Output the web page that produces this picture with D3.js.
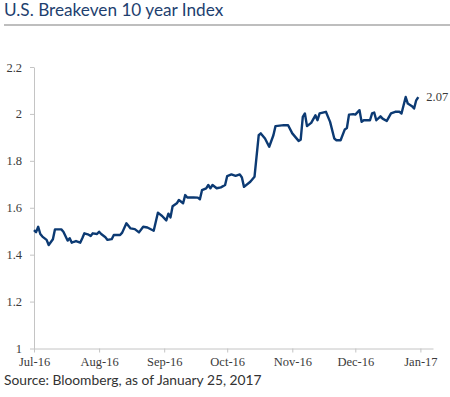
<!DOCTYPE html>
<html>
<head>
<meta charset="utf-8">
<script src="https://cdn.jsdelivr.net/npm/d3@7"></script>
<style>
  body { margin: 0; background: #fff; }
  svg { display: block; }
  .serif { font-family: "Liberation Serif", "Times New Roman", Times, Tinos, "Nimbus Roman", "Nimbus Roman No9 L", FreeSerif, "DejaVu Serif", "Noto Serif", Georgia, serif; }
</style>
</head>
<body>
<svg id="chart" width="450" height="397"></svg>
<script>
// breakeven readings
const dates = [
  "2016-07-01","2016-07-02","2016-07-03","2016-07-04","2016-07-05","2016-07-07","2016-07-08","2016-07-10",
  "2016-07-11","2016-07-14","2016-07-15","2016-07-17","2016-07-18","2016-07-19","2016-07-20","2016-07-21",
  "2016-07-23","2016-07-24","2016-07-25","2016-07-27","2016-07-28","2016-07-29","2016-07-31",
  "2016-08-01","2016-08-02","2016-08-04","2016-08-05","2016-08-07","2016-08-08","2016-08-11","2016-08-12",
  "2016-08-14","2016-08-16","2016-08-18","2016-08-20","2016-08-22","2016-08-24","2016-08-27","2016-08-29","2016-08-31",
  "2016-09-02","2016-09-03","2016-09-04","2016-09-05","2016-09-07","2016-09-08","2016-09-10","2016-09-11",
  "2016-09-12","2016-09-15","2016-09-17","2016-09-18","2016-09-19","2016-09-21","2016-09-22","2016-09-23",
  "2016-09-24","2016-09-26","2016-09-28","2016-09-30",
  "2016-10-01","2016-10-03","2016-10-05","2016-10-07","2016-10-08","2016-10-09","2016-10-12","2016-10-14",
  "2016-10-16","2016-10-17","2016-10-19","2016-10-21","2016-10-23","2016-10-24","2016-10-28","2016-10-30",
  "2016-11-01","2016-11-04","2016-11-05","2016-11-06","2016-11-07","2016-11-08","2016-11-10","2016-11-12",
  "2016-11-13","2016-11-14","2016-11-17","2016-11-19","2016-11-21","2016-11-22","2016-11-24","2016-11-26",
  "2016-11-27","2016-11-28","2016-11-30",
  "2016-12-01","2016-12-03","2016-12-04","2016-12-05","2016-12-08","2016-12-09","2016-12-10","2016-12-11",
  "2016-12-13","2016-12-14","2016-12-16","2016-12-18","2016-12-20","2016-12-22","2016-12-23","2016-12-25",
  "2016-12-26","2016-12-28","2016-12-29","2016-12-30","2016-12-31"
];

const values = [
  1.505,1.496,1.519,1.488,1.477,1.463,1.441,1.466,
  1.508,1.508,1.498,1.460,1.470,1.451,1.455,1.458,
  1.451,1.470,1.491,1.485,1.480,1.491,1.488,
  1.498,1.488,1.474,1.463,1.466,1.484,1.484,1.494,
  1.534,1.512,1.509,1.495,1.519,1.516,1.502,1.579,1.565,
  1.546,1.575,1.559,1.606,1.619,1.633,1.619,1.654,
  1.644,1.644,1.643,1.636,1.675,1.683,1.697,1.683,
  1.697,1.683,1.687,1.697,
  1.735,1.742,1.736,1.742,1.729,1.689,1.711,1.732,
  1.909,1.917,1.895,1.860,1.909,1.948,1.952,1.952,
  1.917,1.885,1.890,1.987,2.002,1.948,1.962,1.994,
  1.973,2.002,2.009,1.966,1.895,1.888,1.888,1.934,
  1.940,1.997,1.999,
  1.997,2.016,1.966,1.973,1.973,2.002,2.006,1.973,
  1.990,1.980,1.970,2.002,2.009,2.009,2.002,2.072,
  2.044,2.033,2.023,2.058,2.072
];

const yTicks = [1, 1.2, 1.4, 1.6, 1.8, 2, 2.2];
const monthTicks = ["2016-07-01","2016-08-01","2016-09-01","2016-10-01","2016-11-01","2016-12-01","2017-01-01"];

const title = "U.S. Breakeven 10 year Index";
const source = "Source: Bloomberg, as of January 25, 2017";
const lastLabel = "2.07";

const parseDate = d3.timeParse("%Y-%m-%d");
const data = dates.map((d, i) => ({ date: parseDate(d), value: values[i] }));

const margin = { left: 34, top: 67, bottom: 48 };
const height = 397;

const svg = d3.select("#chart");

const xScale = d3.scaleTime()
  .domain([parseDate("2016-07-01"), parseDate("2017-01-07")])
  .range([margin.left, 433]);

const yScale = d3.scaleLinear()
  .domain([1, 2.2])
  .range([height - margin.bottom - 0.5, margin.top]);

// title + rule
svg.append("text")
  .attr("x", 4)
  .attr("y", 16)
  .style("font-family", "Lato, 'Noto Sans', sans-serif")
  .style("font-size", "17.2px")
  .style("fill", "#1e3f6f")
  .text(title);

svg.append("line")
  .attr("x1", 4).attr("x2", 450)
  .attr("y1", 25).attr("y2", 25)
  .style("stroke", "#a8a8a8")
  .style("stroke-width", 1.5);

const xAxis = d3.axisBottom(xScale)
  .tickValues(monthTicks.map(parseDate))
  .tickFormat(d3.timeFormat("%b-%y"))
  .tickSizeInner(4)
  .tickSizeOuter(0)
  .tickPadding(5);

const yAxis = d3.axisLeft(yScale)
  .tickValues(yTicks)
  .tickFormat(d => d3.format("")(+d.toFixed(1)))
  .tickSizeInner(4)
  .tickSizeOuter(0)
  .tickPadding(8);

const gx = svg.append("g")
  .attr("transform", `translate(0, ${yScale(1)})`)
  .call(xAxis);

const gy = svg.append("g")
  .attr("transform", `translate(${margin.left}, 0)`)
  .call(yAxis);

[gx, gy].forEach(g => {
  g.attr("font-family", null).attr("font-size", null);
  g.selectAll("path, line").style("stroke", "#c4c4c4").style("stroke-width", 1);
  g.selectAll("text")
    .attr("class", "serif")
    .style("font-size", "12.5px")
    .style("fill", "#3a3a3a");
});

const lineGenerator = d3.line()
  .x(d => xScale(d.date))
  .y(d => yScale(d.value));

svg.append("path")
  .datum(data)
  .attr("d", lineGenerator)
  .style("fill", "none")
  .style("stroke", "#0c3a73")
  .style("stroke-width", 2.4)
  .style("stroke-linejoin", "round");

const last = data[data.length - 1];
svg.append("text")
  .attr("class", "serif")
  .attr("x", xScale(last.date) + 8)
  .attr("y", yScale(last.value))
  .attr("dy", "0.35em")
  .style("font-size", "12.5px")
  .style("fill", "#3a3a3a")
  .text(lastLabel);

svg.append("text")
  .attr("x", 4)
  .attr("y", 385)
  .style("font-family", "Lato, 'Noto Sans', sans-serif")
  .style("font-size", "13.8px")
  .style("fill", "#333")
  .text(source);
</script>
</body>
</html>
